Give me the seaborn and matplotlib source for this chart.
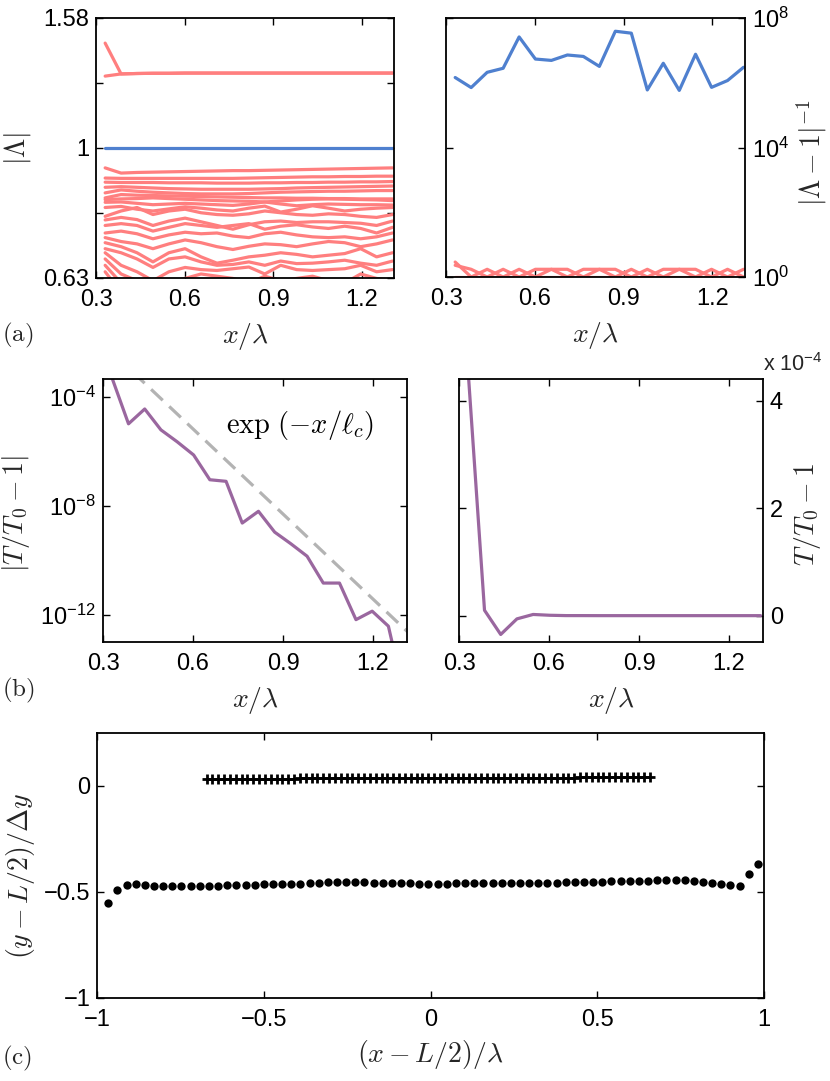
import numpy as np
import pandas as pd
import matplotlib
matplotlib.use('Agg')
import matplotlib.pyplot as plt
import seaborn as sns
from matplotlib.ticker import FixedLocator, FixedFormatter, NullLocator

sns.set_theme(style='white')
plt.rcParams['font.family'] = ['Liberation Sans', 'DejaVu Sans']
plt.rcParams['mathtext.fontset'] = 'custom'
plt.rcParams['mathtext.rm'] = 'Liberation Sans'
plt.rcParams['mathtext.it'] = 'Liberation Sans:italic'
plt.rcParams['mathtext.bf'] = 'Liberation Sans:bold'
plt.rcParams['axes.unicode_minus'] = True

# ---------------- data ----------------
x_grid = [0.331, 0.385, 0.439, 0.493, 0.547, 0.602, 0.656, 0.710, 0.764, 0.818,
          0.872, 0.926, 0.980, 1.034, 1.088, 1.143, 1.197, 1.251, 1.305]

# panel (a) left: |Lambda| of unstable/stable modes
lam_top_a = [1.29, 1.30, 1.302, 1.303, 1.303, 1.304, 1.304, 1.304, 1.304, 1.304,
             1.304, 1.304, 1.304, 1.304, 1.304, 1.304, 1.304, 1.304, 1.304]
lam_top_b = [1.45, 1.30, 1.302, 1.303, 1.303, 1.304, 1.304, 1.304, 1.304, 1.304,
             1.304, 1.304, 1.304, 1.304, 1.304, 1.304, 1.304, 1.304, 1.304]
lam_blue = [1.0] * 19
lam_low = [
    [0.932, 0.915, 0.917, 0.918, 0.919, 0.920, 0.921, 0.922, 0.923, 0.923, 0.924, 0.925, 0.926, 0.927, 0.928, 0.929, 0.930, 0.931, 0.932],
    [0.899, 0.898, 0.898, 0.898, 0.898, 0.898, 0.898, 0.898, 0.898, 0.899, 0.900, 0.901, 0.902, 0.903, 0.903, 0.904, 0.904, 0.905, 0.905],
    [0.886, 0.885, 0.885, 0.885, 0.884, 0.884, 0.884, 0.883, 0.883, 0.883, 0.884, 0.884, 0.885, 0.885, 0.886, 0.886, 0.887, 0.887, 0.888],
    [0.870, 0.872, 0.870, 0.868, 0.866, 0.865, 0.864, 0.864, 0.864, 0.864, 0.865, 0.866, 0.868, 0.869, 0.870, 0.871, 0.872, 0.873, 0.874],
    [0.853, 0.862, 0.858, 0.855, 0.853, 0.851, 0.850, 0.850, 0.850, 0.851, 0.853, 0.855, 0.856, 0.857, 0.858, 0.858, 0.859, 0.860, 0.860],
    [0.838, 0.848, 0.846, 0.845, 0.844, 0.843, 0.842, 0.841, 0.840, 0.839, 0.838, 0.838, 0.837, 0.837, 0.836, 0.836, 0.835, 0.835, 0.835],
    [0.833, 0.835, 0.836, 0.838, 0.836, 0.834, 0.832, 0.830, 0.829, 0.828, 0.826, 0.829, 0.832, 0.834, 0.835, 0.834, 0.833, 0.832, 0.830],
    [0.825, 0.826, 0.822, 0.818, 0.820, 0.822, 0.820, 0.818, 0.816, 0.820, 0.826, 0.820, 0.815, 0.818, 0.820, 0.819, 0.818, 0.818, 0.817],
    [0.810, 0.813, 0.805, 0.800, 0.806, 0.812, 0.808, 0.803, 0.800, 0.808, 0.814, 0.797, 0.805, 0.815, 0.808, 0.800, 0.805, 0.808, 0.810],
    [0.785, 0.800, 0.810, 0.790, 0.800, 0.805, 0.795, 0.790, 0.788, 0.792, 0.800, 0.795, 0.790, 0.788, 0.792, 0.790, 0.785, 0.782, 0.790],
    [0.775, 0.782, 0.776, 0.760, 0.772, 0.780, 0.770, 0.760, 0.750, 0.762, 0.770, 0.772, 0.768, 0.770, 0.770, 0.768, 0.766, 0.760, 0.772],
    [0.760, 0.765, 0.760, 0.745, 0.755, 0.765, 0.760, 0.755, 0.760, 0.765, 0.750, 0.758, 0.762, 0.756, 0.752, 0.758, 0.752, 0.740, 0.755],
    [0.740, 0.745, 0.738, 0.725, 0.735, 0.742, 0.738, 0.740, 0.732, 0.728, 0.738, 0.742, 0.735, 0.730, 0.728, 0.730, 0.725, 0.730, 0.740],
    [0.728, 0.718, 0.712, 0.700, 0.712, 0.722, 0.715, 0.705, 0.698, 0.706, 0.712, 0.710, 0.705, 0.712, 0.718, 0.715, 0.705, 0.712, 0.722],
    [0.715, 0.705, 0.690, 0.668, 0.690, 0.700, 0.680, 0.665, 0.672, 0.680, 0.684, 0.690, 0.686, 0.680, 0.684, 0.688, 0.700, 0.680, 0.690],
    [0.700, 0.690, 0.675, 0.655, 0.675, 0.680, 0.668, 0.660, 0.662, 0.668, 0.660, 0.670, 0.664, 0.665, 0.668, 0.672, 0.665, 0.660, 0.670],
    [0.690, 0.660, 0.645, 0.625, 0.645, 0.655, 0.650, 0.648, 0.652, 0.656, 0.640, 0.660, 0.650, 0.648, 0.650, 0.652, 0.660, 0.645, 0.650],
    [0.675, 0.640, 0.625, 0.610, 0.620, 0.630, 0.640, 0.635, 0.630, 0.620, 0.635, 0.625, 0.630, 0.635, 0.625, 0.620, 0.640, 0.630, 0.625],
    [0.660, 0.620, 0.600, 0.620, 0.600, 0.615, 0.610, 0.625, 0.600, 0.610, 0.620, 0.605, 0.610, 0.600, 0.615, 0.620, 0.600, 0.610, 0.600],
    [0.645, 0.600, 0.610, 0.590, 0.605, 0.620, 0.600, 0.590, 0.600, 0.595, 0.610, 0.590, 0.600, 0.615, 0.600, 0.590, 0.605, 0.600, 0.620],
]

# panel (a) right: |Lambda - 1|^-1
inv_blue = [1.45e6, 7.1e5, 2.1e6, 2.8e6, 2.6e7, 5.4e6, 4.9e6, 7.2e6, 6.5e6, 3.2e6,
            3.9e7, 3.4e7, 6.0e5, 4.0e6, 5.8e5, 7.6e6, 7.2e5, 1.17e6, 3.0e6]
inv_red = [
    [2.9, 1.0, 1.73, 1.0, 1.73, 1.0, 1.73, 1.73, 1.0, 1.73, 1.0, 1.73, 1.0, 1.73, 1.73, 1.0, 1.73, 1.0, 1.73],
    [2.3, 1.73, 1.0, 1.73, 1.0, 1.73, 1.73, 1.0, 1.73, 1.73, 1.73, 1.0, 1.73, 1.0, 1.73, 1.73, 1.0, 1.73, 1.0],
    [1.03, 1.03, 1.03, 1.03, 1.03, 1.03, 1.03, 1.03, 1.03, 1.03, 1.03, 1.03, 1.03, 1.03, 1.03, 1.03, 1.03, 1.03, 1.03],
]

# panel (b): T/T0 - 1
t_dev = [4.5e-4, 1.0e-5, -3.5e-5, -6.0e-6, 2.2e-6, 7.2e-7, 8.9e-8, 7.8e-8, 2.3e-9, 6.2e-9,
         1.07e-9, 4.0e-10, 1.4e-10, 1.45e-11, 1.45e-11, 6.6e-13, 1.35e-12, 3.8e-13, 1.0e-15]
ref_x = [0.40, 1.32]
ref_y = [7.8e-4, 2.1e-13]

# panel (c)
dot_x = [-0.967, -0.940, -0.912, -0.885, -0.857, -0.830, -0.802, -0.775, -0.748, -0.720,
         -0.693, -0.665, -0.638, -0.610, -0.583, -0.555, -0.528, -0.501, -0.473, -0.446,
         -0.418, -0.391, -0.363, -0.336, -0.308, -0.281, -0.254, -0.226, -0.199, -0.171,
         -0.144, -0.116, -0.089, -0.061, -0.034, -0.007, 0.021, 0.048, 0.076, 0.103,
         0.131, 0.158, 0.186, 0.213, 0.240, 0.268, 0.295, 0.323, 0.350, 0.378,
         0.405, 0.433, 0.460, 0.488, 0.515, 0.542, 0.570, 0.597, 0.625, 0.652,
         0.680, 0.707, 0.735, 0.762, 0.789, 0.817, 0.844, 0.872, 0.899, 0.927,
         0.954, 0.981]
dot_y = [-0.553, -0.491, -0.467, -0.465, -0.467, -0.471, -0.473, -0.474, -0.474, -0.473,
         -0.472, -0.471, -0.470, -0.469, -0.468, -0.467, -0.466, -0.465, -0.464, -0.463,
         -0.462, -0.461, -0.459, -0.457, -0.455, -0.454, -0.453, -0.454, -0.455, -0.456,
         -0.457, -0.458, -0.459, -0.460, -0.461, -0.461, -0.461, -0.461, -0.460, -0.460,
         -0.460, -0.459, -0.459, -0.459, -0.458, -0.458, -0.457, -0.457, -0.456, -0.456,
         -0.455, -0.455, -0.454, -0.453, -0.452, -0.451, -0.450, -0.449, -0.448, -0.447,
         -0.446, -0.445, -0.445, -0.445, -0.447, -0.452, -0.457, -0.463, -0.467, -0.470,
         -0.417, -0.368]
cross_x = [-0.672, -0.655, -0.637, -0.620, -0.602, -0.585, -0.567, -0.550, -0.532, -0.515,
           -0.497, -0.480, -0.462, -0.445, -0.427, -0.410, -0.392, -0.375, -0.357, -0.340,
           -0.322, -0.305, -0.287, -0.270, -0.252, -0.235, -0.217, -0.200, -0.182, -0.165,
           -0.147, -0.130, -0.112, -0.095, -0.077, -0.060, -0.042, -0.025, -0.007, 0.011,
           0.028, 0.046, 0.063, 0.081, 0.098, 0.116, 0.133, 0.151, 0.168, 0.186,
           0.203, 0.221, 0.238, 0.256, 0.273, 0.291, 0.308, 0.326, 0.343, 0.361,
           0.378, 0.396, 0.413, 0.431, 0.448, 0.466, 0.483, 0.501, 0.518, 0.536,
           0.553, 0.571, 0.588, 0.606, 0.623, 0.641, 0.658]
cross_y = [0.033, 0.033, 0.033, 0.033, 0.033, 0.033, 0.033, 0.034, 0.034, 0.034,
           0.034, 0.034, 0.034, 0.034, 0.034, 0.034, 0.035, 0.035, 0.035, 0.035,
           0.035, 0.035, 0.035, 0.035, 0.035, 0.035, 0.035, 0.035, 0.035, 0.035,
           0.035, 0.035, 0.035, 0.035, 0.035, 0.035, 0.035, 0.036, 0.036, 0.036,
           0.036, 0.036, 0.036, 0.036, 0.036, 0.036, 0.036, 0.036, 0.037, 0.037,
           0.037, 0.037, 0.037, 0.037, 0.037, 0.037, 0.038, 0.038, 0.038, 0.038,
           0.038, 0.038, 0.038, 0.038, 0.039, 0.039, 0.039, 0.039, 0.039, 0.039,
           0.039, 0.040, 0.040, 0.040, 0.040, 0.040, 0.040]

# ---------------- style ----------------
RED = '#FF7F7F'
BLUE = '#4F80CF'
PURPLE = '#9A679F'
GRAY = '#B3B3B3'
LW = 2.3
TICK_FS = 17
LAB_FS = 20

fig = plt.figure(figsize=(8.3, 10.81), dpi=100)


def style(ax, right=False):
    ax.set_facecolor('white')
    for s in ax.spines.values():
        s.set_color('black')
        s.set_linewidth(1.3)
        s.set_visible(True)
    ax.tick_params(which='both', direction='in', length=5, width=1.0, colors='black',
                   top=True, bottom=True, left=True, right=True, labelsize=TICK_FS)
    ax.tick_params(axis='x', pad=8)
    ax.tick_params(axis='y', pad=5)
    if right:
        ax.yaxis.tick_right()
        ax.tick_params(which='both', left=True, right=True)
        ax.yaxis.set_label_position('right')
    ax.grid(False)


def long_form(lines, xs):
    rows = []
    for i, ln in enumerate(lines):
        for xv, yv in zip(xs, ln):
            rows.append((i, xv, yv))
    return pd.DataFrame(rows, columns=['line', 'x', 'y'])


# ---- (a) left
ax1 = fig.add_axes([96 / 830, 1 - 278 / 1081, 298 / 830, 260 / 1081])
ax1.set_yscale('log')
df_red = long_form([lam_top_a, lam_top_b] + lam_low, x_grid)
sns.lineplot(data=df_red, x='x', y='y', units='line', estimator=None, sort=False,
             color=RED, lw=LW, ax=ax1, legend=False)
sns.lineplot(x=x_grid, y=lam_blue, color=BLUE, lw=LW, ax=ax1, legend=False)
ax1.set_xlim(0.3, 1.31)
ax1.set_ylim(10 ** -0.2, 10 ** 0.2)
ax1.yaxis.set_major_locator(FixedLocator([10 ** -0.2, 10 ** -0.1, 1.0, 10 ** 0.1, 10 ** 0.2]))
ax1.yaxis.set_major_formatter(FixedFormatter(['0.63', '', '1', '', '1.58']))
ax1.yaxis.set_minor_locator(NullLocator())
ax1.set_xticks([0.3, 0.6, 0.9, 1.2])
ax1.set_xticklabels(['0.3', '0.6', '0.9', '1.2'])
style(ax1)
ax1.set_xlabel(r'$x/\lambda$', math_fontfamily='cm', fontsize=LAB_FS)
ax1.set_ylabel(r'$|\Lambda|$', math_fontfamily='cm', fontsize=LAB_FS)
ax1.xaxis.set_label_coords(0.5, -0.165)
ax1.yaxis.set_label_coords(-0.212, 0.5)

# ---- (a) right
ax2 = fig.add_axes([446 / 830, 1 - 277 / 1081, 299 / 830, 259 / 1081])
ax2.set_yscale('log')
df_red2 = long_form(inv_red, x_grid)
sns.lineplot(data=df_red2, x='x', y='y', units='line', estimator=None, sort=False,
             color=RED, lw=LW, ax=ax2, legend=False)
sns.lineplot(x=x_grid, y=inv_blue, color=BLUE, lw=LW, ax=ax2, legend=False)
ax2.set_xlim(0.3, 1.31)
ax2.set_ylim(1, 1e8)
ax2.yaxis.set_major_locator(FixedLocator([1, 1e4, 1e8]))
ax2.yaxis.set_major_formatter(FixedFormatter([r'$10^{0}$', r'$10^{4}$', r'$10^{8}$']))
ax2.yaxis.set_minor_locator(NullLocator())
ax2.set_xticks([0.3, 0.6, 0.9, 1.2])
ax2.set_xticklabels(['0.3', '0.6', '0.9', '1.2'])
style(ax2, right=True)
ax2.set_xlabel(r'$x/\lambda$', math_fontfamily='cm', fontsize=LAB_FS)
ax2.set_ylabel(r'$|\Lambda-1|^{-1}$', math_fontfamily='cm', fontsize=LAB_FS)
ax2.xaxis.set_label_coords(0.5, -0.165)
ax2.yaxis.set_label_coords(1.165, 0.48)

# ---- (b) left
ax3 = fig.add_axes([103 / 830, 1 - 642 / 1081, 304 / 830, 263 / 1081])
ax3.set_yscale('log')
sns.lineplot(x=ref_x, y=ref_y, color=GRAY, lw=LW, ax=ax3, legend=False,
             linestyle=(0, (5, 2.8)))
sns.lineplot(x=x_grid, y=np.abs(t_dev), color=PURPLE, lw=LW, ax=ax3, legend=False)
ax3.set_xlim(0.3, 1.313)
ax3.set_ylim(1e-13, 4.4e-4)
ax3.yaxis.set_major_locator(FixedLocator([1e-12, 1e-8, 1e-4]))
ax3.yaxis.set_major_formatter(FixedFormatter([r'$10^{-12}$', r'$10^{-8}$', r'$10^{-4}$']))
ax3.yaxis.set_minor_locator(NullLocator())
ax3.set_xticks([0.3, 0.6, 0.9, 1.2])
ax3.set_xticklabels(['0.3', '0.6', '0.9', '1.2'])
style(ax3)
ax3.set_xlabel(r'$x/\lambda$', math_fontfamily='cm', fontsize=LAB_FS)
ax3.set_ylabel(r'$|T/T_0-1|$', math_fontfamily='cm', fontsize=LAB_FS)
ax3.xaxis.set_label_coords(0.5, -0.165)
ax3.yaxis.set_label_coords(-0.232, 0.49)
ax3.text(0.957, 10 ** -5.04, r'$\exp\,(-x/\ell_c)$', math_fontfamily='cm',
         fontsize=20.5, ha='center', va='center', color='black')

# ---- (b) right
ax4 = fig.add_axes([459 / 830, 1 - 642 / 1081, 304 / 830, 263 / 1081])
sns.lineplot(x=x_grid, y=t_dev, color=PURPLE, lw=LW, ax=ax4, legend=False)
ax4.set_xlim(0.3, 1.313)
ax4.set_ylim(-0.49e-4, 4.4e-4)
ax4.yaxis.set_major_locator(FixedLocator([0, 2e-4, 4e-4]))
ax4.yaxis.set_major_formatter(FixedFormatter(['0', '2', '4']))
ax4.set_xticks([0.3, 0.6, 0.9, 1.2])
ax4.set_xticklabels(['0.3', '0.6', '0.9', '1.2'])
style(ax4, right=True)
ax4.set_xlabel(r'$x/\lambda$', math_fontfamily='cm', fontsize=LAB_FS)
ax4.set_ylabel(r'$T/T_0-1$', math_fontfamily='cm', fontsize=LAB_FS)
ax4.xaxis.set_label_coords(0.5, -0.165)
ax4.yaxis.set_label_coords(1.095, 0.483)
fig.text(763 / 830, 1 - 371 / 1081, r'x 10$^{-4}$', fontsize=15.5, ha='left', va='baseline')

# ---- (c)
ax5 = fig.add_axes([97.3 / 830, 1 - 998 / 1081, 666.7 / 830, 265.3 / 1081])
sns.scatterplot(x=cross_x, y=cross_y, marker='+', s=60, color='black', linewidth=2.0,
                ax=ax5, legend=False)
sns.scatterplot(x=dot_x, y=dot_y, marker='o', s=36, color='black', edgecolor='black',
                linewidth=0, ax=ax5, legend=False)
ax5.set_xlim(-1, 1)
ax5.set_ylim(-1, 0.25)
ax5.set_xticks([-1, -0.5, 0, 0.5, 1])
ax5.set_xticklabels(['\u22121', '\u22120.5', '0', '0.5', '1'])
ax5.set_yticks([-1, -0.5, 0])
ax5.set_yticklabels(['\u22121', '\u22120.5', '0'])
style(ax5)
ax5.set_xlabel(r'$(x-L/2)/\lambda$', math_fontfamily='cm', fontsize=LAB_FS)
ax5.set_ylabel(r'$(y-L/2)/\Delta y$', math_fontfamily='cm', fontsize=LAB_FS)
ax5.xaxis.set_label_coords(0.5, -0.15)
ax5.yaxis.set_label_coords(-0.09, 0.46)

# panel tags
fig.text(0.003, 1 - 335 / 1081, r'$\mathrm{(a)}$', math_fontfamily='cm', fontsize=18,
         ha='left', va='center')
fig.text(0.003, 1 - 690 / 1081, r'$\mathrm{(b)}$', math_fontfamily='cm', fontsize=18,
         ha='left', va='center')
fig.text(0.003, 1 - 1058 / 1081, r'$\mathrm{(c)}$', math_fontfamily='cm', fontsize=18,
         ha='left', va='center')

fig.savefig('out.png', dpi=100, facecolor='white')
